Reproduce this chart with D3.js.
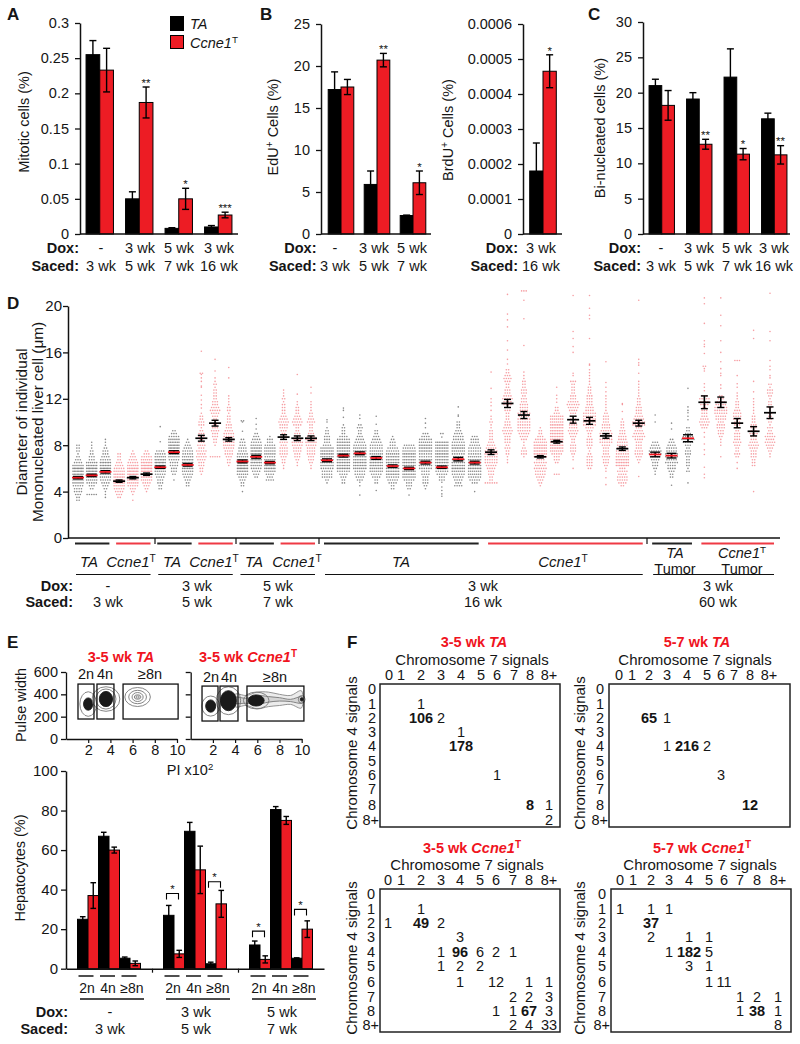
<!DOCTYPE html>
<html>
<head>
<meta charset="utf-8">
<script src="https://cdn.jsdelivr.net/npm/d3@7"></script>
<style>
  html, body { margin: 0; padding: 0; background: #fff; }
  text { font-family: "Liberation Sans", Arial, sans-serif; fill: #151515; }
</style>
</head>
<body>
<div id="chart"></div>
<script>
const black = "#000", red = "#ed1c24", chartRed = "#f0141e";

// Panel A
const mitoticTA = [0.255, 0.05, 0.008, 0.01];
const mitoticTAErr = [0.02, 0.01, 0.001, 0.002];
const mitoticCcne = [0.233, 0.187, 0.05, 0.027];
const mitoticCcneErr = [0.031, 0.022, 0.015, 0.004];
const mitoticStars = ["", "**", "*", "***"];
const mitoticTicks = [0, 0.05, 0.1, 0.15, 0.2, 0.25, 0.3];

// Panel B
const eduTA = [17.2, 5.9, 2.2];
const eduTAErr = [2.1, 1.6, 0.05];
const eduCcne = [17.5, 20.7, 6.1];
const eduCcneErr = [0.9, 0.8, 1.4];
const eduStars = ["", "**", "*"];
const eduTicks = [0, 5, 10, 15, 20, 25];
const brduTA = [0.00018];
const brduTAErr = [0.00008];
const brduCcne = [0.000465];
const brduCcneErr = [0.000047];
const brduStars = ["*"];
const brduTicks = [0, 0.0001, 0.0002, 0.0003, 0.0004, 0.0005, 0.0006];

// Panel C
const binucTA = [21, 19.1, 22.2, 16.3];
const binucTAErr = [0.9, 0.9, 4, 0.8];
const binucCcne = [18.2, 12.7, 11.3, 11.2];
const binucCcneErr = [2.1, 0.7, 0.8, 1.3];
const binucStars = ["", "**", "*", "**"];
const binucTicks = [0, 5, 10, 15, 20, 25, 30];

const doxFour = ["-", "3 wk", "5 wk", "3 wk"];
const sacedFour = ["3 wk", "5 wk", "7 wk", "16 wk"];
const doxThree = ["-", "3 wk", "5 wk"];
const sacedThree = ["3 wk", "5 wk", "7 wk"];

// Panel D, one entry per column.
// swarmRows: [lowest diameter, number of dots in each 0.25 um row going up]
const swarmBin = 0.25;
const swarmGenotypeBlocks = [[3, "TA"], [3, "Ccne1"], [3, "TA"], [3, "Ccne1"], [3, "TA"], [3, "Ccne1"], [10, "TA"], [10, "Ccne1"], [3, "TA"], [5, "Ccne1"]];
const swarmRows = [
  [3.25, 2,2,3,4,4,5,6,6,7,8,8,8,6,4,3,2,1,2,2,2],
  [3.75, 5,0,2,3,5,6,7,8,8,8,7,6,3,3,2,2,1,1,1],
  [3.5, 1,1,1,2,3,4,5,6,7,8,8,7,7,5,4,3,3,2,1,1,1],
  [3.5, 2,3,4,5,6,7,8,7,7,6,5,4,3,2,2,2],
  [3.25, 1,0,1,2,3,5,6,7,8,8,8,7,6,5,4,3,2,1],
  [4, 1,2,3,4,6,7,8,8,8,8,7,6,5,3,2],
  [4.25, 2,2,3,3,4,5,6,7,8,8,7,6,5,4],
  [5, 1,0,2,3,3,4,4,5,6,7,8,8,8,7,6,5,3,2],
  [4.5, 2,2,3,4,5,6,7,8,8,7,6,5,5,4,3,2,1],
  [5.5, 1,2,2,3,3,4,5,4,5,3,4,3,2,3,3,2,1,3,3,2,2,1],
  [7, 5,0,0,0,1,2,2,3,3,4,3,2,1,2,3,4,5,4,3,3,2,2,2,2,1,2,1],
  [6.25, 1,2,2,3,4,4,5,6,6,6,5,5,4,3,3,2,2,2,1,2,2,1,1,1,1],
  [4, 1,0,2,2,3,4,6,7,8,8,8,7,6,5,4,4,3,3,2],
  [5.25, 2,3,4,5,6,7,8,8,8,8,7,6,5,4,3,2],
  [5, 4,3,4,6,7,8,8,6,5,6,6,6,5,3,3,1],
  [6, 1,1,2,2,3,4,4,4,3,4,3,3,2,3,4,4,5,4,3,2,2,2,2,1,2,1,1,1],
  [6.25, 1,1,2,3,3,4,4,5,6,4,3,3,2,2,4,5,4,3,2,2,2,1,1],
  [6, 1,1,2,3,3,4,4,4,5,6,6,4,3,2,2,2,4,3,2,2,1,1,1,1],
  [4.75, 1,2,5,5,5,6,7,8,8,8,8,8,7,4,3,3,3,2,2,1],
  [4.75, 2,2,3,4,6,8,8,8,8,8,8,8,8,8,8,6,4,2,2,2,1],
  [5, 3,4,5,5,7,8,8,8,8,8,8,7,6,5,4,3,2,2,3,2],
  [4.75, 2,2,4,5,7,7,8,8,8,8,7,7,6,6,5,4,3,2,2],
  [4.25, 2,2,4,5,6,8,8,8,8,8,8,8,7,6,5,3,3,2,1],
  [4.25, 2,3,3,5,7,8,8,8,8,8,8,8,8,7,6,5],
  [4.25, 1,2,3,3,3,4,4,6,7,8,8,6,6,8,8,8,7,6,4,3],
  [5, 3,3,5,6,6,7,8,8,8,8,8,8,8,8],
  [4.5, 4,3,4,5,6,7,8,8,7,6,5,6,7,8,7,6,5,5,4,3,2,2],
  [4.75, 3,5,6,7,7,8,8,8,8,7,6,6,6,5,4,4,3],
  [4.75, 6,2,2,3,3,4,5,6,6,6,7,6,5,4,3,2,2,2,2,1,1,2,1,1],
  [6.5, 1,1,1,2,2,3,2,3,3,3,4,5,4,3,3,2,2,2,3,3,4,4,5,4,3,3,2,2,3,4,3,2,2],
  [7, 1,3,3,2,1,1,3,4,5,6,6,6,6,6,5,6,4,4,4,3,3,2,3,3,2,2,2,1],
  [4.5, 1,2,3,4,5,5,6,5,6,4,8,8,8,8,8,7,5,3,2,2,1],
  [5.5, 3,0,0,0,2,3,3,5,7,8,8,8,8,8,8,8,8,8,7,7,7,3,2,2],
  [6, 1,0,0,1,1,2,3,3,3,2,2,3,4,5,4,4,3,3,3,3,4,5,6,5,3,3,2,2,2,2,3],
  [6, 2,3,3,3,3,2,1,2,3,3,3,2,2,3,4,6,6,6,6,6,4,4,3,3,3,3,2,2,2,1,1,1,1,1,1],
  [5.75, 1,1,2,3,3,4,3,3,3,4,6,6,6,6,5,4,4,3,3,3,2,1,1,1,1,1,1],
  [4.5, 2,4,5,5,4,5,3,8,8,8,7,6,6,5,5,5,4,4,3,3,2,2,2,1],
  [6.5, 1,2,3,4,4,3,3,3,4,6,5,4,3,6,6,5,4,3,3,3,2,2,2,1,1,1,1,1,1],
  [5.5, 1,1,2,3,3,4,5,6,6,5,4,3],
  [5.25, 2,2,3,4,4,6,5,6,6,5,5,4,3,2],
  [5.75, 2,1,2,2,2,2,3,3,2,3,5,7,5,3,2,2],
  [9.5, 3,4,5,4,3,3,3,2,4,4,5,3],
  [8.25, 1,1,2,3,3,4,4,3,5,5,6,6,6,5,4,3,2],
  [7, 2,3,2,2,3,4,3,3,3,2,2,3,3,4,4,4,3,2,2,2,1,1,1],
  [6.25, 2,2,2,3,3,3,4,5,4,3,3,4,3,3,3,2,2,2,1,1,1,1,1,1],
  [7, 1,1,2,3,4,5,4,5,3,2,3,1,2,2,2,2,1,2,2,2,1,2,3,3,1,2]
];
// single dots away from the rows
const swarmTails = [
  [], [], [], [], [], [],
  [8.3, 9.6], [], [], [11.2, 11.5, 11.9, 12.3, 13, 13.1, 13.5, 13.8, 14.1, 14.2, 14.2, 16.1], [13.8, 14.4, 15.4], [13.8, 14.7],
  [9.2, 10, 10.1, 10.1], [9.4, 9.8, 10.3], [], [], [12.4, 14.1], [12.5, 13],
  [10, 10.2], [10.4, 11, 11.2], [3.7, 4.5, 4.8, 10.3, 10.6], [4.1, 9.8, 10.5], [], [3.7], [9.5, 9.9, 10.3], [3.6, 3.8, 4.1, 4.4, 4.8, 8.7, 9, 9], [10, 10, 10.5, 10.6, 11.3], [4],
  [11, 11.4, 11.7, 12, 12.9, 14.3], [15, 15.4, 16.2, 17, 18.2, 18.8, 19.3, 21], [14, 14.3, 16.6, 18.9, 20.5, 21.3, 21.3, 21.3], [], [11.7, 12, 12.3, 13], [14, 14.2, 16, 16.5, 17.2, 17.8, 20.9], [14.9, 15, 17.2, 18.9, 19.2, 19.8, 20.9], [4.6, 5.2, 12.6, 13, 13.4, 15.2], [10.9, 11.5, 11.6], [5.3, 14.2, 14.9, 15.1, 15.4, 20.5],
  [10, 10.6], [4.55, 9.4, 9.9], [4.75, 10.2, 10.5, 10.8, 11, 11.3, 12.9],
  [5.2, 5.5, 6.1, 7.2, 7.6, 8.1, 8.7, 9.1, 12.7, 13, 13.3, 14.4, 14.6, 14.8, 14.8, 15.9, 16.5, 16.7, 17, 18.5, 20.2, 20.7],
  [7, 8, 12.9, 13.2, 14, 14.2, 14.6, 15.2, 16, 17, 18.3, 19.2, 20.7],
  [6, 6.5, 13, 13.3, 14, 15.3, 15.3, 15.3],
  [4, 12.6, 13.5, 17.2, 17.9],
  [13.8, 14, 14.5, 14.8, 15.3, 17, 17.8, 21.1]
];
const swarmMeans = [5.2, 5.4, 5.7, 4.9, 5.2, 5.5, 6.1, 7.4, 6.3, 8.6, 9.9, 8.5, 6.6, 7, 6.5, 8.7, 8.6, 8.6, 6.7, 7.1, 7.3, 6.9, 6.2, 6, 6.5, 6.1, 6.8, 6.5, 7.4, 11.6, 10.6, 7, 8.3, 10.2, 10.1, 8.8, 7.7, 9.9, 7.2, 7.1, 8.6, 11.7, 11.7, 9.9, 9.2, 10.8];
const swarmSem = [0.1, 0.1, 0.1, 0.1, 0.1, 0.1, 0.1, 0.12, 0.1, 0.25, 0.25, 0.15, 0.12, 0.12, 0.1, 0.2, 0.2, 0.2, 0.12, 0.12, 0.12, 0.12, 0.1, 0.1, 0.12, 0.1, 0.15, 0.12, 0.2, 0.35, 0.3, 0.1, 0.12, 0.3, 0.3, 0.2, 0.15, 0.25, 0.2, 0.2, 0.3, 0.55, 0.45, 0.4, 0.4, 0.5];
const swarmTicks = [0, 4, 8, 12, 16, 20];

// Panel E
const pulseTicks = [0, 200, 400, 600];
const piTicks = [2, 4, 6, 8, 10];
const ploidy = ["2n", "4n", "≥8n"];
const hepTA = [[25, 67, 5.3], [27, 69.5, 2.5], [12, 80.5, 5.3]];
const hepTAErr = [[1.3, 2, 0.6], [5, 4.5, 0.8], [2, 1.5, 0.2]];
const hepCcne = [[37, 60, 2.7], [7.5, 50, 32.8], [4.7, 75, 20]];
const hepCcneErr = [[6.5, 1.5, 1.2], [1.8, 12, 6.8], [1.8, 2, 4.2]];
const hepBrackets = [[1, 0, 38], [1, 2, 44], [2, 0, 19], [2, 2, 30]];
const hepTicks = [0, 20, 40, 60, 80, 100];
// flow gates: [PI from, PI to], pulse from/to
const gatesTA = [[1.08, 2.52], [2.79, 4.32], [5.14, 10.1]];
const gatesCcne = [[1.02, 2.46], [2.64, 4.26], [5.07, 10.2]];
// contours: PI centre, pulse centre, PI radius, pulse radius, filled
const contoursTA = [
  [2, 313, 0.75, 110, 0], [2, 313, 0.42, 55, 1],
  [3.6, 358, 1.25, 110, 0], [3.6, 358, 0.9, 90, 0], [3.6, 358, 0.6, 68, 1],
  [6.45, 376, 1.15, 85, 0], [6.45, 376, 0.8, 60, 0], [6.45, 376, 0.5, 40, 0], [6.45, 376, 0.3, 20, 0], [6.45, 376, 0.15, 10, 0]
];
const contoursCcne = [
  [1.8, 295, 0.8, 90, 0], [1.8, 295, 0.45, 55, 1],
  [3.4, 343, 1.1, 125, 0], [3.4, 343, 0.72, 90, 1],
  [5.9, 345, 1.15, 75, 0], [5.9, 345, 0.72, 50, 1],
  [10, 355, 0.3, 35, 0], [10, 355, 0.12, 15, 1]
];
const tailCcneOuter = [[4, 400], [5, 390], [6, 420], [7, 420], [8, 400], [9, 390], [10, 430], [10, 280], [9, 310], [8, 300], [7, 290], [6, 270], [5, 300], [4, 290]];
const tailCcneInner = [[4, 375], [5, 365], [6, 390], [7, 380], [8, 370], [9, 355], [10, 380], [10, 320], [9, 335], [8, 340], [7, 330], [6, 310], [5, 320], [4, 320]];

// Panel F: [chromosome 4 row, chromosome 7 column, cell count, bold]
const signalLabels = ["0", "1", "2", "3", "4", "5", "6", "7", "8", "8+"];
const cellsTA35 = [["1","2",1],["2","2",106,1],["2","3",2],["3","4",1],["4","4",178,1],["6","6",1],["8","8",8,1],["8","8+",1],["8+","8+",2]];
const cellsTA57 = [["2","2",65,1],["2","3",1],["4","3",1],["4","4",216,1],["4","5",2],["6","6",3],["8","8",12,1]];
const cellsCcne35 = [["1","2",1],["2","0",1],["2","2",49,1],["2","3",2],["3","4",3],["4","3",1],["4","4",96,1],["4","5",6],["4","6",2],["4","7",1],["5","3",1],["5","4",2],["5","5",2],["6","4",1],["6","6",12],["6","8",1],["6","8+",1],["7","7",2],["7","8",2],["7","8+",3],["8","6",1],["8","7",1],["8","8",67,1],["8","8+",3],["8+","7",2],["8+","8",4],["8+","8+",33]];
const cellsCcne57 = [["1","0",1],["1","2",1],["1","3",1],["2","2",37,1],["3","2",2],["3","4",1],["3","5",1],["4","3",1],["4","4",182,1],["4","5",5],["5","4",3],["5","5",1],["6","5",1],["6","6",11],["7","7",1],["7","8",2],["7","8+",1],["8","7",1],["8","8",38,1],["8","8+",1],["8+","8+",8]];

const svg = d3.select("#chart").append("svg")
  .attr("width", 800)
  .attr("height", 1044)
  .style("display", "block");

// plain text helper, y is the vertical centre
function label(x, y, str, o = {}) {
  const t = svg.append("text")
    .attr("x", x).attr("y", y).attr("dy", "0.36em")
    .attr("text-anchor", o.anchor || "middle")
    .attr("font-size", o.size || 14.5)
    .attr("font-weight", o.weight || "normal")
    .attr("font-style", o.italic ? "italic" : "normal");
  if (o.fill) t.style("fill", o.fill);
  if (o.rotate) t.attr("transform", `rotate(-90 ${x} ${y})`);
  if (str !== null) t.text(str);
  return t;
}

function ccneLabel(x, y, o = {}) {
  const t = label(x, y, null, o);
  t.append("tspan").attr("font-style", "italic").text("Ccne1");
  t.append("tspan").attr("font-style", "normal").attr("font-size", (o.size || 14.5) * 0.68).attr("dy", -5).text("T");
  return t;
}

function leftAxis(scale, x, ticks, size = 15, padding = 4) {
  const g = svg.append("g")
    .attr("transform", `translate(${x},0)`)
    .call(d3.axisLeft(scale).tickValues(ticks).tickSize(5).tickSizeOuter(0).tickPadding(padding).tickFormat(d => String(d)));
  g.select(".domain").attr("stroke", "#111").attr("stroke-width", 1.5);
  g.selectAll(".tick line").attr("stroke", "#111").attr("stroke-width", 1.3);
  g.selectAll("text").attr("font-size", size).attr("font-family", null);
  return g;
}

function errorBar(x, y, v, e, cap) {
  svg.append("line").attr("x1", x).attr("x2", x).attr("y1", y(v - e)).attr("y2", y(v + e))
    .attr("stroke", black).attr("stroke-width", 1.4);
  [v - e, v + e].forEach(w => {
    svg.append("line").attr("x1", x - cap).attr("x2", x + cap).attr("y1", y(w)).attr("y2", y(w))
      .attr("stroke", black).attr("stroke-width", 1.4);
  });
}

// Bar panels A, B and C
function barPanel(p) {
  const y = d3.scaleLinear().domain([0, p.yMax]).range([234, p.top]);
  const groups = d3.range(p.ta.length);
  const x = d3.scaleBand().domain(groups).range(p.xRange);
  const side = d3.scaleBand().domain(["TA", "Ccne1"]).range([-p.barW, p.barW]);

  groups.forEach(i => {
    const cx = x(i) + x.bandwidth() / 2;
    [["TA", p.ta, p.taErr, black], ["Ccne1", p.ccne, p.ccneErr, red]].forEach(([k, vals, errs, col]) => {
      svg.append("rect")
        .attr("x", cx + side(k)).attr("y", y(vals[i]))
        .attr("width", side.bandwidth()).attr("height", y(0) - y(vals[i]))
        .attr("fill", col).attr("stroke", black).attr("stroke-width", 1);
      errorBar(cx + side(k) + side.bandwidth() / 2, y, vals[i], errs[i], 3.5);
    });
    if (p.stars[i]) {
      const sx = cx + side("Ccne1") + side.bandwidth() / 2;
      label(sx, y(p.ccne[i] + p.ccneErr[i]) - 6, p.stars[i], { size: 11.5 }).attr("dy", "0.5em");
    }
  });

  leftAxis(y, p.axisX, p.ticks, 14.5, 6);
  svg.append("line").attr("x1", p.axisX).attr("x2", p.baseEnd).attr("y1", y(0)).attr("y2", y(0))
    .attr("stroke", "#111").attr("stroke-width", 1.5);

  label(p.rowEnd, 248, "Dox:", { anchor: "end", weight: "bold" });
  label(p.rowEnd, 266, "Saced:", { anchor: "end", weight: "bold" });
  p.rowX.forEach((rx, i) => {
    label(rx, 248, p.dox[i]);
    label(rx, 266, p.saced[i]);
  });
  return y;
}

barPanel({ axisX: 80, baseEnd: 238, xRange: [80, 238], top: 23, yMax: 0.3, ticks: mitoticTicks, barW: 13.7, rowEnd: 79,
  ta: mitoticTA, taErr: mitoticTAErr, ccne: mitoticCcne, ccneErr: mitoticCcneErr, stars: mitoticStars,
  dox: doxFour, saced: sacedFour, rowX: [101, 140, 179, 219] });
barPanel({ axisX: 321, baseEnd: 431, xRange: [323, 431], top: 24, yMax: 25, ticks: eduTicks, barW: 12.8, rowEnd: 316.5,
  ta: eduTA, taErr: eduTAErr, ccne: eduCcne, ccneErr: eduCcneErr, stars: eduStars,
  dox: doxThree, saced: sacedThree, rowX: [335, 374, 412] });
barPanel({ axisX: 523, baseEnd: 562, xRange: [525, 561], top: 24, yMax: 0.0006, ticks: brduTicks, barW: 13.3, rowEnd: 518,
  ta: brduTA, taErr: brduTAErr, ccne: brduCcne, ccneErr: brduCcneErr, stars: brduStars,
  dox: ["3 wk"], saced: ["16 wk"], rowX: [541] });
barPanel({ axisX: 643, baseEnd: 790, xRange: [643, 793], top: 22, yMax: 30, ticks: binucTicks, barW: 12.7, rowEnd: 641,
  ta: binucTA, taErr: binucTAErr, ccne: binucCcne, ccneErr: binucCcneErr, stars: binucStars,
  dox: doxFour, saced: sacedFour, rowX: [661, 699, 737, 774] });

label(24, 122, "Mitotic cells (%)", { rotate: true });
const eduLabel = label(273, 127, null, { rotate: true });
eduLabel.append("tspan").text("EdU");
eduLabel.append("tspan").attr("font-size", 10).attr("dy", -5).text("+");
eduLabel.append("tspan").attr("dy", 5).text(" Cells (%)");
const brduLabel = label(448, 130, null, { rotate: true });
brduLabel.append("tspan").text("BrdU");
brduLabel.append("tspan").attr("font-size", 10).attr("dy", -5).text("+");
brduLabel.append("tspan").attr("dy", 5).text(" Cells (%)");
label(600, 128, "Bi-nucleated cells (%)", { rotate: true });

// Legend
svg.append("rect").attr("x", 170.5).attr("y", 16.5).attr("width", 13).attr("height", 14).attr("fill", black).attr("stroke", black);
svg.append("rect").attr("x", 170.5).attr("y", 35.5).attr("width", 13).attr("height", 13).attr("fill", red).attr("stroke", black);
label(190, 24, "TA", { anchor: "start", italic: true });
ccneLabel(190, 43, { anchor: "start" });

// Panel letters
[["A", 7, 14], ["B", 260, 14], ["C", 588, 14], ["D", 7, 303], ["E", 7, 642], ["F", 347, 642]].forEach(([s, x, y]) => {
  label(x, y, s, { anchor: "start", weight: "bold", size: 17 });
});

// Panel D, swarm of individual cells
const swarmGenotype = swarmGenotypeBlocks.flatMap(([n, g]) => d3.range(n).map(() => g));
const yD = d3.scaleLinear().domain([0, 20]).range([538, 306]);
const xEarly = d3.scalePoint().domain(d3.range(18)).range([78, 311]);
const xLate = d3.scalePoint().domain(d3.range(18, 46)).range([327, 770]);
const xD = c => (c < 18 ? xEarly(c) : xLate(c));

const swarmDots = [];
swarmRows.forEach(([start, ...counts], c) => {
  counts.forEach((n, k) => {
    d3.range(n).forEach(i => swarmDots.push({ c, v: start + k * swarmBin, i, n }));
  });
});
swarmTails.forEach((tail, c) => {
  d3.rollup(tail, v => v.length, d => d).forEach((n, v) => {
    d3.range(n).forEach(i => swarmDots.push({ c, v, i, n }));
  });
});

// rows spread out until they reach the column width, then squeeze
const dotStep = (n, c) => Math.min(2.3, (c < 18 ? 10 : 12) / Math.max(n - 1, 1));

svg.append("g").selectAll("circle")
  .data(swarmDots)
  .enter().append("circle")
  .attr("cx", d => xD(d.c) + (d.i - (d.n - 1) / 2) * dotStep(d.n, d.c))
  .attr("cy", d => yD(d.v))
  .attr("r", 0.8)
  .attr("fill", d => (swarmGenotype[d.c] === "TA" ? "#3a3a3a" : "#ee3d47"))
  .attr("fill-opacity", d => (swarmGenotype[d.c] === "TA" ? 0.6 : 0.5));

swarmMeans.forEach((m, c) => {
  const cx = xD(c), isTA = swarmGenotype[c] === "TA";
  const cap = isTA ? 5 : 3.5;
  svg.append("line").attr("x1", cx).attr("x2", cx).attr("y1", yD(m - swarmSem[c])).attr("y2", yD(m + swarmSem[c]))
    .attr("stroke", black).attr("stroke-width", 1.6);
  [m - swarmSem[c], m + swarmSem[c]].forEach(w => {
    svg.append("line").attr("x1", cx - cap).attr("x2", cx + cap).attr("y1", yD(w)).attr("y2", yD(w))
      .attr("stroke", black).attr("stroke-width", 1.4);
  });
  svg.append("line").attr("x1", cx - 6).attr("x2", cx + 6).attr("y1", yD(m)).attr("y2", yD(m))
    .attr("stroke", isTA ? chartRed : black).attr("stroke-width", 1.7);
});

leftAxis(yD, 68, swarmTicks, 15, 1);
svg.append("line").attr("x1", 68).attr("x2", 780).attr("y1", 538).attr("y2", 538).attr("stroke", "#111").attr("stroke-width", 1.5);
[155, 236, 319, 647].forEach(x => {
  svg.append("line").attr("x1", x).attr("x2", x).attr("y1", 538).attr("y2", 544).attr("stroke", "#111").attr("stroke-width", 1.2);
});
label(21, 422, "Diameter of individual", { rotate: true, size: 15.3 });
label(37, 422, "Mononucleated liver cell (μm)", { rotate: true, size: 15.3 });

// genotype lines under the swarm, first and last column of each run
[[0, 2], [3, 5], [6, 8], [9, 11], [12, 14], [15, 17], [18, 27], [28, 37], [38, 40], [41, 45]].forEach(([a, b]) => {
  svg.append("line")
    .attr("x1", xD(a) - 3).attr("x2", xD(b) + 4).attr("y1", 543.5).attr("y2", 543.5)
    .attr("stroke", swarmGenotype[a] === "TA" ? "#222" : "#ef3a45").attr("stroke-width", 2);
});
[[0, 5], [6, 11], [12, 17], [18, 37], [38, 45]].forEach(([a, b]) => {
  svg.append("line")
    .attr("x1", xD(a) - 2).attr("x2", xD(b) + 4).attr("y1", 574.5).attr("y2", 574.5)
    .attr("stroke", "#111").attr("stroke-width", 1.2);
});
[89, 172, 254, 401].forEach(x => label(x, 562, "TA", { italic: true, size: 15 }));
[131, 214, 297, 563].forEach(x => ccneLabel(x, 562, { size: 15 }));
label(675, 553, "TA", { italic: true, size: 14.5 });
label(675, 568.5, "Tumor", { size: 14.5 });
ccneLabel(742, 552.5, { size: 14.5 });
label(742, 568.5, "Tumor", { size: 14.5 });
label(73, 586, "Dox:", { anchor: "end", weight: "bold" });
label(73, 602, "Saced:", { anchor: "end", weight: "bold" });
[[108, "-", "3 wk"], [197, "3 wk", "5 wk"], [278, "5 wk", "7 wk"], [483, "3 wk", "16 wk"], [718, "3 wk", "60 wk"]].forEach(([x, a, b]) => {
  label(x, 586, a);
  label(x, 602, b);
});

// Panel E, flow plots
const yPulse = d3.scaleLinear().domain([0, 600]).range([739, 672]);
const tailLine = d3.line().curve(d3.curveCardinalClosed);

function flowPlot(x0, gates, contours, gateTop, gateBottom, showLabels) {
  const xPi = d3.scaleLinear().domain([0, 10]).range([x0, x0 + 111]);
  if (showLabels === "ccne") {
    svg.append("path")
      .attr("d", tailLine(tailCcneOuter.map(([a, b]) => [xPi(a), yPulse(b)])))
      .attr("fill", "#ececec").attr("stroke", "#888").attr("stroke-width", 0.9);
    svg.append("path")
      .attr("d", tailLine(tailCcneInner.map(([a, b]) => [xPi(a), yPulse(b)])))
      .attr("fill", "#d5d5d5").attr("stroke", "#777").attr("stroke-width", 0.9);
  }
  contours.forEach(([a, b, ra, rb, filled]) => {
    svg.append("ellipse")
      .attr("cx", xPi(a)).attr("cy", yPulse(b))
      .attr("rx", xPi(ra) - xPi(0)).attr("ry", yPulse(0) - yPulse(rb))
      .attr("fill", filled ? "#1a1a1a" : "none")
      .attr("stroke", filled ? "#1a1a1a" : "#777").attr("stroke-width", 0.9);
  });
  gates.forEach(([a, b]) => {
    svg.append("rect")
      .attr("x", xPi(a)).attr("y", yPulse(gateTop))
      .attr("width", xPi(b) - xPi(a)).attr("height", yPulse(gateBottom) - yPulse(gateTop))
      .attr("fill", "none").attr("stroke", "#111").attr("stroke-width", 1.3);
  });
  const gx = svg.append("g")
    .attr("transform", "translate(0,739)")
    .call(d3.axisBottom(xPi).tickValues(piTicks).tickSize(4).tickSizeOuter(0).tickPadding(2));
  gx.select(".domain").attr("stroke", "#111").attr("stroke-width", 1.5);
  gx.selectAll(".tick line").attr("stroke", "#111").attr("stroke-width", 1.2);
  gx.selectAll("text").attr("font-size", 14.5).attr("font-family", null);
  const gy = leftAxis(yPulse, x0, pulseTicks, 14.5, 3);
  gy.select(".domain").attr("stroke-width", 1.3);
  if (showLabels === "ccne") gy.selectAll("text").remove();
}
flowPlot(66, gatesTA, contoursTA, 492, 179, "ta");
flowPlot(190.7, gatesCcne, contoursCcne, 474, 161, "ccne");

[[86, "2n"], [105, "4n"], [150, "≥8n"]].forEach(([x, s]) => label(x, 674, s));
[[211, "2n"], [229, "4n"], [275, "≥8n"]].forEach(([x, s]) => label(x, 677, s));
label(21, 705, "Pulse width", { rotate: true });
const piTitle = label(190, 770, "PI x10", { size: 14.5 });
piTitle.append("tspan").attr("font-size", 9.5).attr("dy", -5).text("2");

const titleRed = { weight: "bold", fill: chartRed, size: 14.5 };
const e1 = label(121, 657, "3-5 wk ", titleRed);
e1.append("tspan").attr("font-style", "italic").text("TA");
function redCcneTitle(x, y, week) {
  const t = label(x, y, week + " ", titleRed);
  t.append("tspan").attr("font-style", "italic").text("Ccne1");
  t.append("tspan").attr("font-size", 10).attr("dy", -5).text("T");
}
redCcneTitle(248, 657, "3-5 wk");

// Panel E, bars
const yHep = d3.scaleLinear().domain([0, 100]).range([968.7, 771]);
const xHepGroup = d3.scaleBand().domain([0, 1, 2]).range([66, 324]);
const xPloidy = d3.scaleBand().domain(ploidy).range([-31.5, 31.5]);
const xSide = d3.scaleBand().domain(["TA", "Ccne1"]).range([0, xPloidy.bandwidth()]);
const groupCenter = g => xHepGroup(g) + xHepGroup.bandwidth() / 2;

[0, 1, 2].forEach(g => {
  ploidy.forEach((p, k) => {
    const px = groupCenter(g) + xPloidy(p);
    [["TA", hepTA, hepTAErr, black], ["Ccne1", hepCcne, hepCcneErr, red]].forEach(([s, vals, errs, col]) => {
      const v = vals[g][k];
      svg.append("rect")
        .attr("x", px + xSide(s)).attr("y", yHep(v))
        .attr("width", xSide.bandwidth()).attr("height", yHep(0) - yHep(v))
        .attr("fill", col).attr("stroke", black).attr("stroke-width", 1);
      errorBar(px + xSide(s) + xSide.bandwidth() / 2, yHep, v, errs[g][k], 2.8);
    });
    svg.append("line")
      .attr("x1", px + 1 + k * 0.5).attr("x2", px + xPloidy.bandwidth() - 5 + k * 0.5)
      .attr("y1", 976).attr("y2", 976).attr("stroke", "#222").attr("stroke-width", 1.6);
    // the wider ≥8n label sits a little to the right in the figure
    label(px + xPloidy.bandwidth() / 2 - 1 + (k === 2 ? 3 : 0), 988, p, { size: 14 });
  });
  svg.append("line")
    .attr("x1", groupCenter(g) - 29).attr("x2", groupCenter(g) + 35)
    .attr("y1", 999).attr("y2", 999).attr("stroke", "#111").attr("stroke-width", 1.5);
  label(groupCenter(g) + 1, 1012, doxThree[g]);
  label(groupCenter(g) + 1, 1029, sacedThree[g]);
});

hepBrackets.forEach(([g, k, topValue]) => {
  const px = groupCenter(g) + xPloidy(ploidy[k]);
  const left = px + 3, right = px + 15;
  const by = yHep(topValue);
  svg.append("path")
    .attr("d", `M${left},${by + 6}V${by}H${right}V${by + 6}`)
    .attr("fill", "none").attr("stroke", black).attr("stroke-width", 1.1);
  label((left + right) / 2, by - 6, "*", { size: 11.5 }).attr("dy", "0.5em");
});

leftAxis(yHep, 66, hepTicks, 15, 3);
const hepBase = svg.append("g").attr("transform", "translate(0,968.7)")
  .call(d3.axisBottom(d3.scaleLinear().domain([66, 324]).range([66, 324])).tickValues([152, 238]).tickSize(4).tickSizeOuter(0).tickFormat(""));
hepBase.select(".domain").attr("stroke", "#111").attr("stroke-width", 1.5);
hepBase.selectAll(".tick line").attr("stroke", "#111").attr("stroke-width", 1.2);
label(20, 868, "Hepatocytes (%)", { rotate: true });
label(68, 1012, "Dox:", { anchor: "end", weight: "bold" });
label(68, 1029, "Saced:", { anchor: "end", weight: "bold" });

// Panel F, count tables
function countTable(t) {
  const colX = d3.scaleOrdinal().domain(signalLabels).range(t.cols);
  const rowY = d3.scaleOrdinal().domain(signalLabels).range(t.rows);
  svg.append("rect")
    .attr("x", t.box[0]).attr("y", t.box[1])
    .attr("width", t.box[2] - t.box[0]).attr("height", t.box[3] - t.box[1])
    .attr("fill", "none").attr("stroke", "#222").attr("stroke-width", 1.5);
  signalLabels.forEach(s => {
    label(colX(s), t.headerY, s);
    if (s === "8+") label(t.box[0] - 1, rowY(s), s, { anchor: "end" });
    else label(t.rowLabelX, rowY(s), s);
  });
  t.cells.forEach(([r, c, n, bold]) => {
    label(colX(c), rowY(r), String(n), { weight: bold ? "bold" : "normal" });
  });
  label(t.chromX, t.headerY - 15, "Chromosome 7 signals", { size: 15 });
  label(t.sideX, (t.box[1] + t.box[3]) / 2 - 2.5, "Chromosome 4 signals", { rotate: true, size: 15 });
}
const rowsTop = [689, 704, 718, 732, 746, 761, 775, 789, 805, 820];
const rowsBottom = [894, 909, 923, 937, 952, 966, 982, 997, 1011, 1025];

countTable({ box: [380, 684, 560, 827], cols: [389, 401, 421, 441, 461, 481, 497, 514, 530, 549], rows: rowsTop,
  cells: cellsTA35, headerY: 675, rowLabelX: 372, chromX: 472, sideX: 352 });
countTable({ box: [609, 684, 790, 827], cols: [619, 632, 649, 667, 687, 707, 721, 734, 750, 769], rows: rowsTop,
  cells: cellsTA57, headerY: 675, rowLabelX: 600, chromX: 695, sideX: 580 });
countTable({ box: [380, 889, 560, 1032], cols: [388, 401, 421, 441, 460, 480, 496, 513, 529, 549], rows: rowsBottom,
  cells: cellsCcne35, headerY: 880, rowLabelX: 371, chromX: 467, sideX: 352 });
countTable({ box: [611, 889, 791, 1032], cols: [620, 633, 651, 669, 689, 709, 724, 740, 757, 778], rows: rowsBottom,
  cells: cellsCcne57, headerY: 880, rowLabelX: 602, chromX: 700, sideX: 580 });

const f1 = label(474, 642, "3-5 wk ", titleRed);
f1.append("tspan").attr("font-style", "italic").text("TA");
const f2 = label(697, 642, "5-7 wk ", titleRed);
f2.append("tspan").attr("font-style", "italic").text("TA");
redCcneTitle(472, 848, "3-5 wk");
redCcneTitle(702, 848, "5-7 wk");
</script>
</body>
</html>
